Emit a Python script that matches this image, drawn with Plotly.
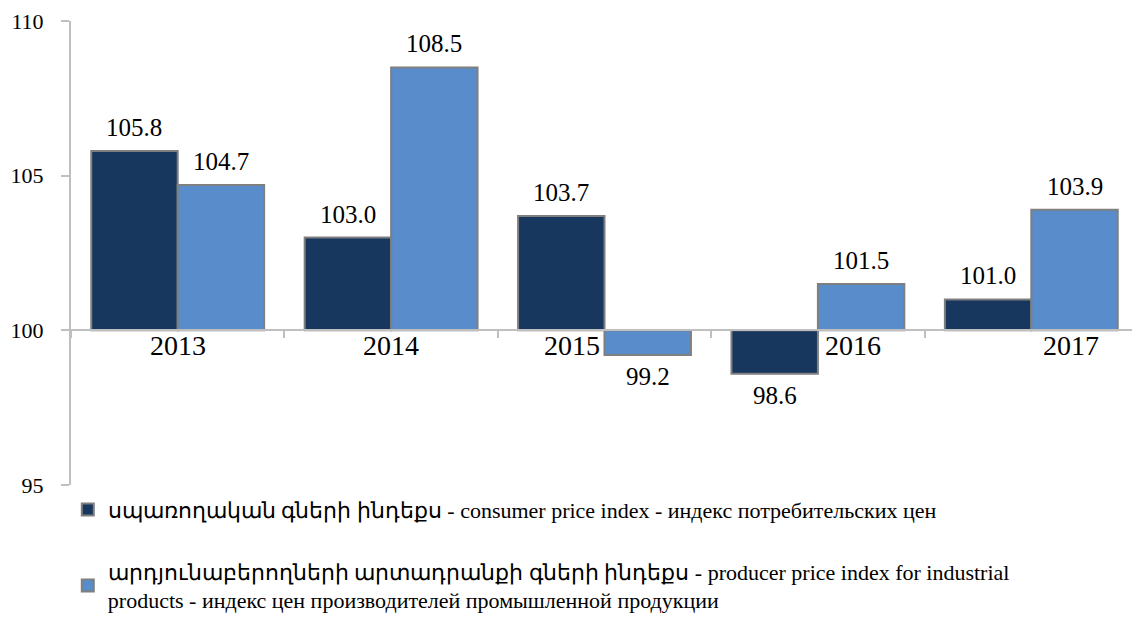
import plotly.graph_objects as go

years = ["2013", "2014", "2015", "2016", "2017"]
cpi = [105.8, 103.0, 103.7, 98.6, 101.0]
ppi = [104.7, 108.5, 99.2, 101.5, 103.9]
names = [
    "սպառողական գների ինդեքս - consumer price index - индекс потребительских цен",
    "արդյունաբերողների արտադրանքի գների ինդեքս - producer price index for industrial<br>products - индекс цен производителей промышленной продукции",
]
base_level = 100
y_ticks = [95, 100, 105, 110]
label_shift = [0, 0, -33, 35, 40]  # horizontal nudge of category labels (px)

FONT = "Liberation Serif"
DARK = "#17375E"
LIGHT = "#588CCB"
EDGE = "#7F7F7F"
AXIS = "#BFBFBF"
BARGAP = 0.19

fig = go.Figure()
for vals, col, nm, grp in [(cpi, DARK, names[0], "a"), (ppi, LIGHT, names[1], "b")]:
    fig.add_trace(go.Bar(
        x=years, y=[v - base_level for v in vals], base=base_level,
        name=nm, legendgroup=grp,
        marker=dict(color=col, line=dict(color=EDGE, width=2)),
        hovertemplate="%{x}: " + "%{customdata:.1f}<extra></extra>",
        customdata=vals,
    ))

half = (1 - BARGAP) / 4
ann = []
for i, y in enumerate(years):
    for vals, off in [(cpi, -half), (ppi, half)]:
        v = vals[i]
        up = v >= base_level
        ann.append(dict(
            x=i + off, y=v, xref="x", yref="y", text=f"{v:.1f}", showarrow=False,
            yanchor="bottom" if up else "top", yshift=8 if up else -6,
            font=dict(family=FONT, size=25, color="#000000"),
        ))
    ann.append(dict(
        x=i, y=base_level, xref="x", yref="y", text=y, showarrow=False,
        yanchor="top", yshift=2, xshift=label_shift[i],
        font=dict(family=FONT, size=28, color="#000000"),
    ))

ymin, ymax = y_ticks[0], y_ticks[-1]
fig.update_layout(
    width=1132, height=609,
    margin=dict(l=63, r=2, t=13, b=132, autoexpand=False),
    paper_bgcolor="white", plot_bgcolor="white",
    barmode="group", bargap=BARGAP, bargroupgap=0,
    font=dict(family=FONT, color="#000000"),
    annotations=ann,
    showlegend=True,
    legend=dict(
        orientation="v", x=-0.003, xanchor="left", y=-0.008, yanchor="top",
        font=dict(family=FONT, size=22, color="#000000"),
        tracegroupgap=30, valign="middle", traceorder="grouped",
        bgcolor="rgba(0,0,0,0)",
    ),
    xaxis=dict(
        type="category", showticklabels=False, showgrid=False,
        showline=True, linecolor=AXIS, linewidth=2,
        ticks="outside", ticklen=7, tickcolor=AXIS, tickwidth=2,
        tickson="boundaries", automargin=False,
        anchor="free", position=(base_level - ymin) / (ymax - ymin),
        range=[-0.5, 4.5], zeroline=False,
    ),
    yaxis=dict(
        range=[ymin, ymax], tickvals=y_ticks, showgrid=False, zeroline=False,
        showline=True, linecolor=AXIS, linewidth=2,
        ticks="outside", ticklen=8, tickcolor=AXIS, tickwidth=2,
        tickfont=dict(family=FONT, size=22, color="#000000"),
        ticklabelstandoff=13, automargin=False,
    ),
)

fig.write_html("out.html")
